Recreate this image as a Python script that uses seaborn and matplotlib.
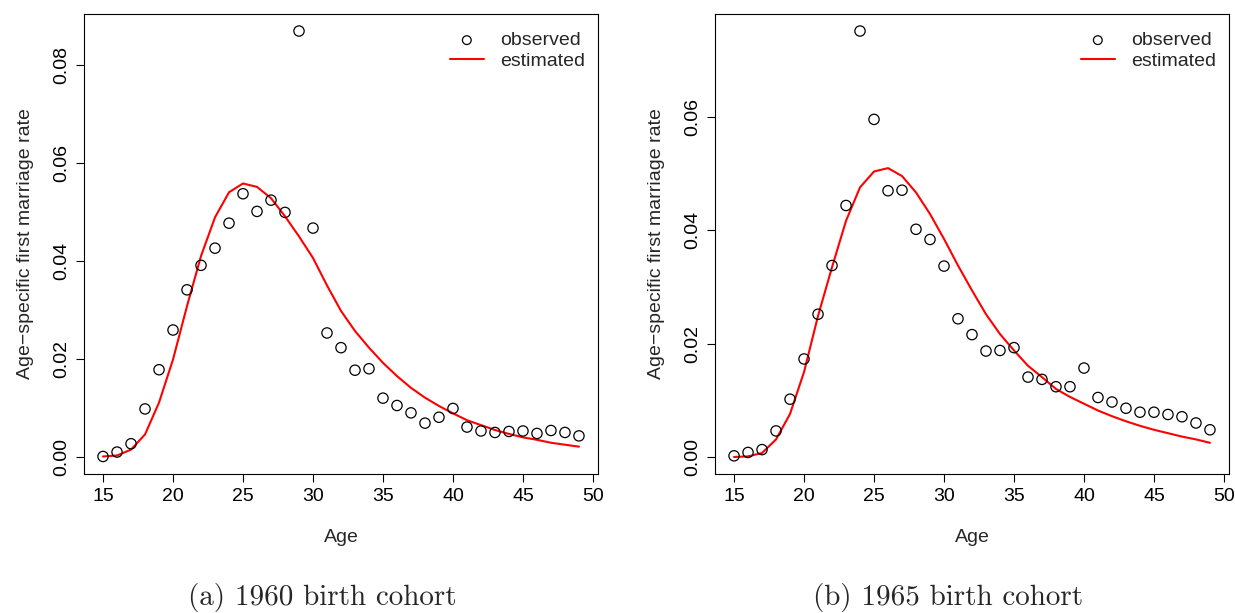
import matplotlib
matplotlib.use("Agg")
import matplotlib.pyplot as plt
import seaborn as sns
import pandas as pd
import numpy as np

ages = list(range(15, 50))

obs_1960 = [0.0001, 0.0010, 0.0027, 0.0098, 0.0178, 0.0259, 0.0341, 0.0391, 0.0426, 0.0477,
            0.0537, 0.0501, 0.0524, 0.0499, 0.0869, 0.0467, 0.0253, 0.0223, 0.0177, 0.0180,
            0.0120, 0.0105, 0.0090, 0.0069, 0.0081, 0.0099, 0.0061, 0.0053, 0.0050, 0.0052,
            0.0053, 0.0048, 0.0054, 0.0050, 0.0043]
est_1960 = [0.0001, 0.0003, 0.0015, 0.0046, 0.0111, 0.0199, 0.0308, 0.0410, 0.0489, 0.0540,
            0.0558, 0.0551, 0.0528, 0.0491, 0.0450, 0.0406, 0.0350, 0.0298, 0.0257, 0.0223,
            0.0192, 0.0165, 0.0141, 0.0121, 0.0104, 0.0089, 0.0075, 0.0065, 0.0055, 0.0047,
            0.0040, 0.0035, 0.0029, 0.0025, 0.0021]

obs_1965 = [0.0002, 0.0008, 0.0013, 0.0046, 0.0102, 0.0173, 0.0252, 0.0338, 0.0444, 0.0752,
            0.0596, 0.0470, 0.0471, 0.0402, 0.0384, 0.0337, 0.0244, 0.0216, 0.0187, 0.0188,
            0.0193, 0.0141, 0.0137, 0.0124, 0.0124, 0.0157, 0.0105, 0.0097, 0.0086, 0.0079,
            0.0079, 0.0075, 0.0071, 0.0060, 0.0048]
est_1965 = [0.0000, 0.0001, 0.0007, 0.0031, 0.0076, 0.0150, 0.0249, 0.0335, 0.0417, 0.0476,
            0.0504, 0.0510, 0.0496, 0.0467, 0.0429, 0.0385, 0.0338, 0.0294, 0.0252, 0.0217,
            0.0188, 0.0161, 0.0141, 0.0120, 0.0106, 0.0094, 0.0082, 0.0072, 0.0063, 0.0055,
            0.0048, 0.0042, 0.0036, 0.0031, 0.0025]

x_ticks = [15, 20, 25, 30, 35, 40, 45, 50]
y_ticks_1960 = [0.00, 0.02, 0.04, 0.06, 0.08]
y_ticks_1965 = [0.00, 0.02, 0.04, 0.06]
captions = ["(a) 1960 birth cohort", "(b) 1965 birth cohort"]

sns.set_theme(style="white")
plt.rcParams['font.family'] = ['Liberation Sans', 'DejaVu Sans']

FS = 14

fig = plt.figure(figsize=(12.35, 6.13), dpi=100)
axes = [fig.add_axes([84 / 1235, 1 - 474 / 613, 514 / 1235, 460 / 613]),
        fig.add_axes([715 / 1235, 1 - 474 / 613, 514 / 1235, 460 / 613])]

panels = [(obs_1960, est_1960, y_ticks_1960), (obs_1965, est_1965, y_ticks_1965)]

for ax, (obs, est, yt) in zip(axes, panels):
    df = pd.DataFrame({"Age": ages, "observed": obs, "estimated": est})
    sns.scatterplot(data=df, x="Age", y="observed", ax=ax, marker="o", s=55,
                    facecolor="none", edgecolor="black", linewidth=0.9,
                    label="observed", zorder=3)
    sns.lineplot(data=df, x="Age", y="estimated", ax=ax, color="red", linewidth=1.5,
                 label="estimated", zorder=2)
    ymax = max(obs)
    ax.set_ylim(-0.04 * ymax, ymax * 1.04)
    ax.set_xlim(15 - 0.04 * 34, 49 + 0.04 * 34)
    ax.set_xticks(x_ticks)
    ax.set_yticks(yt)
    ax.set_yticklabels([f"{v:.2f}" for v in yt], rotation=90, va="center")
    ax.tick_params(axis="both", which="major", direction="out", length=6, width=0.8,
                   labelsize=FS, pad=4, bottom=True, left=True, colors="black")
    ax.set_xlabel("Age", fontsize=FS, labelpad=17)
    ax.set_ylabel("Age\u2212specific first marriage rate", fontsize=FS, labelpad=14)
    for sp in ax.spines.values():
        sp.set_color("black")
        sp.set_linewidth(0.8)
    ax.legend(loc="upper right", bbox_to_anchor=(1.0, 1 - 5 / 460), frameon=False,
              fontsize=FS, markerscale=0.85,
              handlelength=1.75, handletextpad=0.85, borderaxespad=0.35,
              labelspacing=0.15, borderpad=0.3)

fig.text(322 / 1235, 1 - 598 / 613, captions[0], ha="center", va="center",
         fontsize=21, family="cmr10")
fig.text(948 / 1235, 1 - 598 / 613, captions[1], ha="center", va="center",
         fontsize=21, family="cmr10")

fig.savefig("out.png", dpi=100)
